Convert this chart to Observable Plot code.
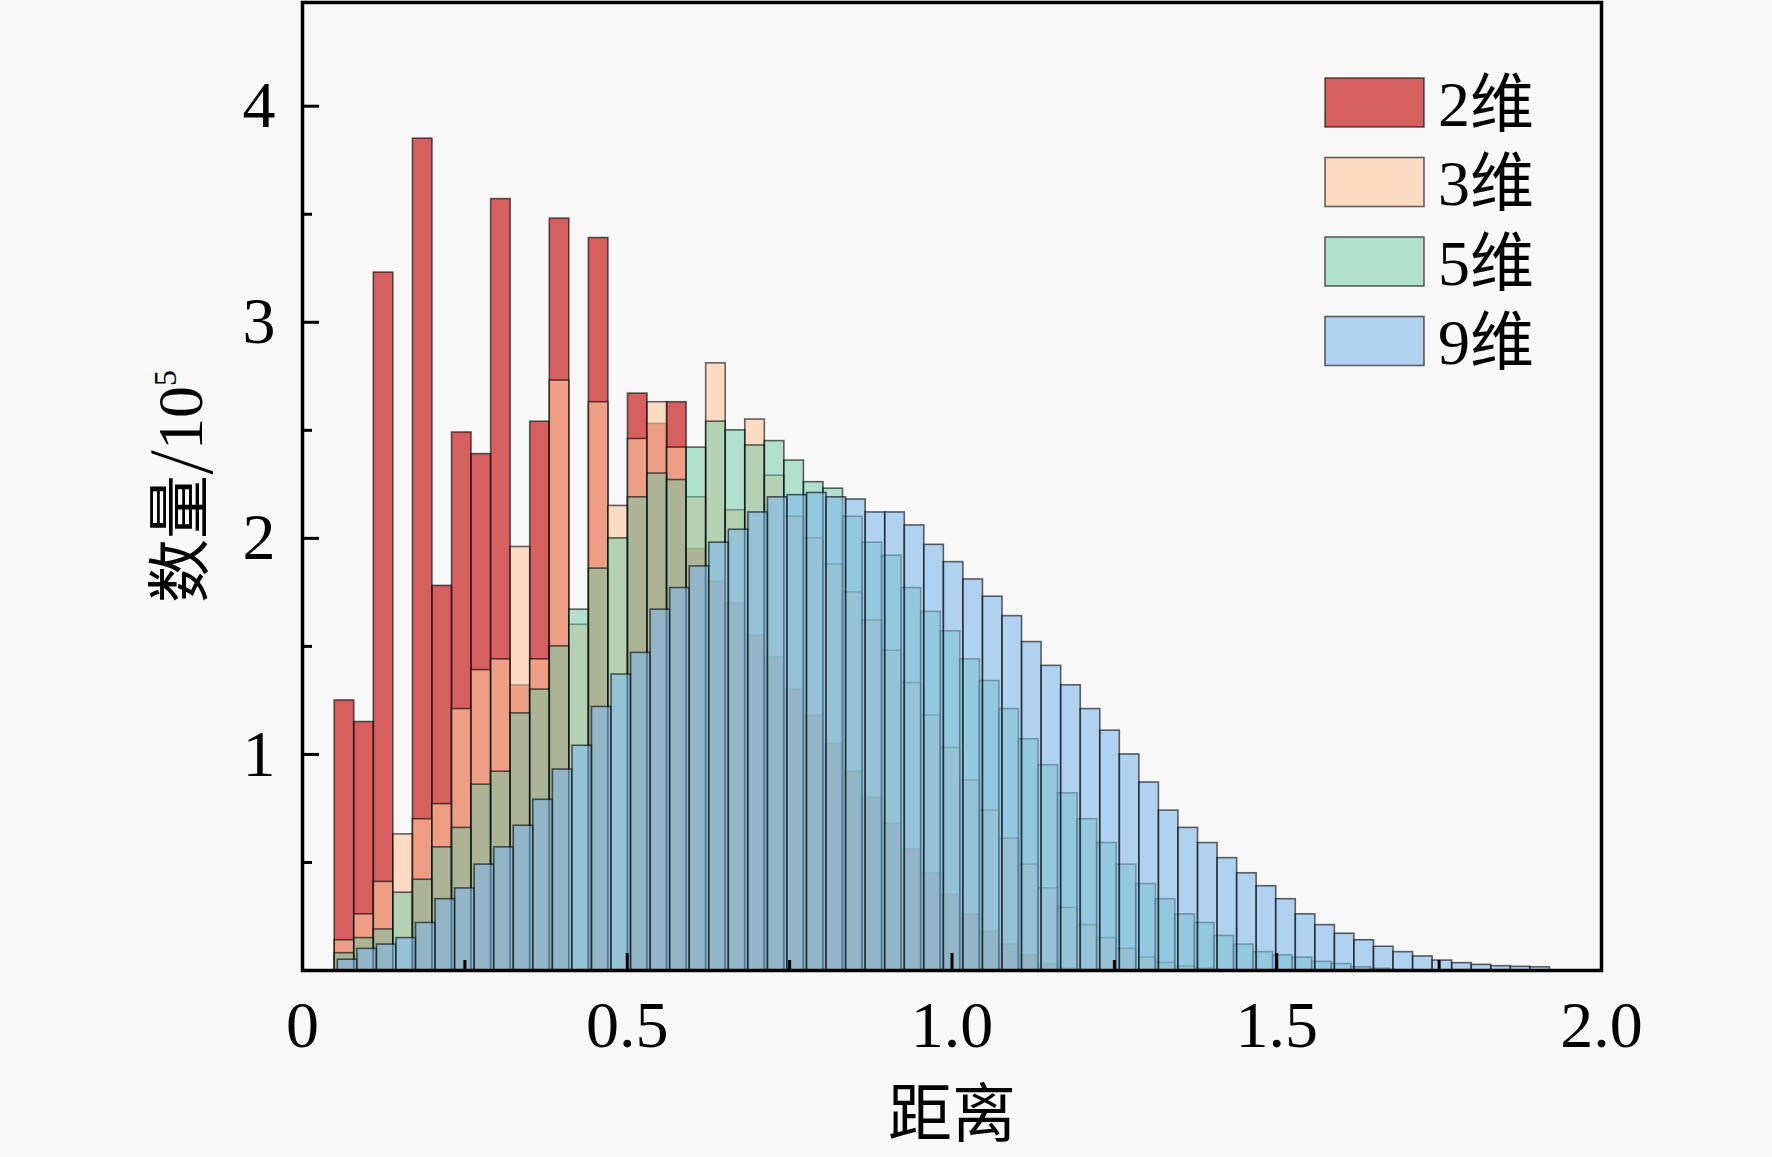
<!DOCTYPE html>
<html>
<head>
<meta charset="utf-8">
<script src="https://cdn.jsdelivr.net/npm/d3@7"></script>
<script src="https://cdn.jsdelivr.net/npm/@observablehq/plot@0.6"></script>
<style>
  html, body { margin: 0; padding: 0; background: #f8f8f8; }
  #chart svg { display: block; }
</style>
</head>
<body>
<div id="chart"></div>
<script>
// ---------- data (counts in units of 10^5) ----------
const seriesNames = ["2维", "3维", "5维", "9维"];
const seriesColors = ["rgb(200,30,30)", "rgb(255,200,160)", "rgb(107,199,163)", "rgb(128,184,234)"];
const seriesOpacity = [0.7, 0.6, 0.5, 0.6];
const binWidth = 0.0301;
const binStarts = [0.0496, 0.0496, 0.0496, 0.0544];

const counts2 = [1.25, 1.15, 3.23, 0, 3.85, 1.78, 2.49, 2.39, 3.57, 1.32, 2.54, 3.48, 0, 3.39, 0, 2.67, 2.53, 2.63,
  1.95, 1.80, 1.70, 1.55, 1.45, 1.30, 1.18, 1.05, 0.92, 0.80, 0.68, 0.56, 0.45, 0.35, 0.26, 0.18, 0.12, 0.07, 0.03, 0.01];
const counts3 = [0.14, 0.26, 0.41, 0.63, 0.70, 0.77, 1.21, 1.39, 1.44, 1.96, 1.44, 2.73, 1.60, 2.63, 2.15, 2.46, 2.63, 2.42,
  2.19, 2.81, 2.13, 2.55, 2.29, 2.10, 2.00, 1.88, 1.75, 1.62, 1.48, 1.33, 1.18, 1.03, 0.88, 0.74, 0.61, 0.49, 0.38, 0.29,
  0.21, 0.15, 0.10, 0.06, 0.035, 0.018, 0.008];
const counts5 = [0.08, 0.15, 0.19, 0.36, 0.42, 0.57, 0.66, 0.86, 0.92, 1.19, 1.30, 1.50, 1.67, 1.86, 2.00, 2.19, 2.30, 2.27,
  2.42, 2.54, 2.50, 2.43, 2.45, 2.36, 2.26, 2.23, 2.10, 1.98, 1.92, 1.77, 1.66, 1.57, 1.44, 1.34, 1.21, 1.07, 0.95, 0.82,
  0.70, 0.59, 0.49, 0.40, 0.33, 0.26, 0.22, 0.16, 0.12, 0.085, 0.07, 0.06, 0.04, 0.03, 0.015, 0.008];
const counts9 = [0.05, 0.10, 0.12, 0.15, 0.22, 0.33, 0.38, 0.49, 0.57, 0.67, 0.79, 0.93, 1.04, 1.22, 1.37, 1.47, 1.67, 1.77,
  1.87, 1.98, 2.04, 2.12, 2.19, 2.20, 2.21, 2.19, 2.18, 2.12, 2.12, 2.06, 1.97, 1.89, 1.81, 1.73, 1.64, 1.52, 1.41, 1.32,
  1.21, 1.11, 1.00, 0.87, 0.74, 0.66, 0.59, 0.52, 0.45, 0.39, 0.33, 0.26, 0.21, 0.17, 0.14, 0.11, 0.085, 0.065, 0.046,
  0.034, 0.026, 0.020, 0.017, 0.015];

const xMajorTicks = [0, 0.5, 1.0, 1.5, 2.0];
const xMinorTicks = [0.25, 0.75, 1.25, 1.75];
const yMajorTicks = [1, 2, 3, 4];
const yMinorTicks = [0.5, 1.5, 2.5, 3.5];
const xTitle = "距离";
const yTitleMain = "数量";
const yTitleSlash = "/";
const yTitleUnit = "10";
const yTitleExp = "5";

// ---------- build tables ----------
const allCounts = [counts2, counts3, counts5, counts9];
const tables = allCounts.map((arr, s) => arr.map((v, i) => ({
  x1: binStarts[s] + i * binWidth,
  x2: binStarts[s] + (i + 1) * binWidth,
  y: v
})));

const barMarks = tables.map((t, s) => Plot.rectY(t, {
  x1: "x1", x2: "x2", y: "y",
  fill: seriesColors[s], fillOpacity: seriesOpacity[s],
  stroke: "#000", strokeOpacity: 0.6, strokeWidth: 1.6
}));

const FONT = "'Liberation Serif', 'Times New Roman', 'Noto Sans CJK SC', serif";
const yTitleFull = yTitleMain + yTitleSlash + yTitleUnit + yTitleExp;

const chart = Plot.plot({
  width: 1772,
  height: 1157,
  marginLeft: 302,
  marginRight: 171,
  marginTop: 2,
  marginBottom: 187,
  style: { background: "#f8f8f8", fontFamily: FONT, color: "#000", overflow: "visible" },
  x: { domain: [0, 2] },
  y: { domain: [0, 4.48] },
  marks: [
    ...barMarks,
    // ticks (inward)
    Plot.axisX({ ticks: xMajorTicks, tickSize: -17, strokeWidth: 3, fill: "none", label: null }),
    Plot.axisX({ ticks: xMinorTicks, tickSize: -10, strokeWidth: 3, fill: "none", label: null }),
    Plot.axisY({ ticks: yMajorTicks, tickSize: -17, strokeWidth: 3, fill: "none", label: null }),
    Plot.axisY({ ticks: yMinorTicks, tickSize: -10, strokeWidth: 3, fill: "none", label: null }),
    // labels
    Plot.axisX({ ticks: xMajorTicks, tickSize: 0, tickPadding: 30, fontSize: 66, label: null,
      tickFormat: d => d === 0 ? "0" : d.toFixed(1) }),
    Plot.axisY({ ticks: yMajorTicks, tickSize: 0, tickPadding: 27, fontSize: 66, label: null,
      tickFormat: d => String(d) }),
    Plot.frame({ stroke: "#000", strokeWidth: 3.5 }),
    Plot.text([xTitle], { frameAnchor: "bottom", dy: 145, fontSize: 64, textAnchor: "middle", lineAnchor: "middle", text: d => d }),
    Plot.text([yTitleFull], { frameAnchor: "left", dx: -121, rotate: -90, fontSize: 64, textAnchor: "middle", lineAnchor: "middle", text: d => d })
  ]
});

document.getElementById("chart").appendChild(chart);

const svg = d3.select(chart);

// superscript in y title
svg.selectAll("text").filter(function () { return this.textContent === yTitleFull; })
  .each(function () {
    const t = d3.select(this);
    t.text(null);
    t.append("tspan").text(yTitleMain);
    t.append("tspan").attr("font-family", "'Noto Sans CJK SC'").attr("font-weight", 300).text(yTitleSlash);
    t.append("tspan").text(yTitleUnit);
    t.append("tspan").attr("dy", "-0.8em").attr("font-size", "0.5em").text(yTitleExp);
  });

// legend
const lg = svg.append("g").attr("font-family", FONT).attr("font-size", 64).attr("text-anchor", "start");
seriesNames.forEach((name, i) => {
  const y0 = 78 + i * 79.5;
  lg.append("rect")
    .attr("x", 1325).attr("y", y0).attr("width", 99).attr("height", 49)
    .attr("fill", seriesColors[i]).attr("fill-opacity", seriesOpacity[i])
    .attr("stroke", "#000").attr("stroke-opacity", 0.6).attr("stroke-width", 1.6);
  lg.append("text")
    .attr("x", 1438).attr("y", y0 + 24.5).attr("dy", "0.36em")
    .attr("text-anchor", "start")
    .attr("fill", "#000").text(name);
});
</script>
</body>
</html>
